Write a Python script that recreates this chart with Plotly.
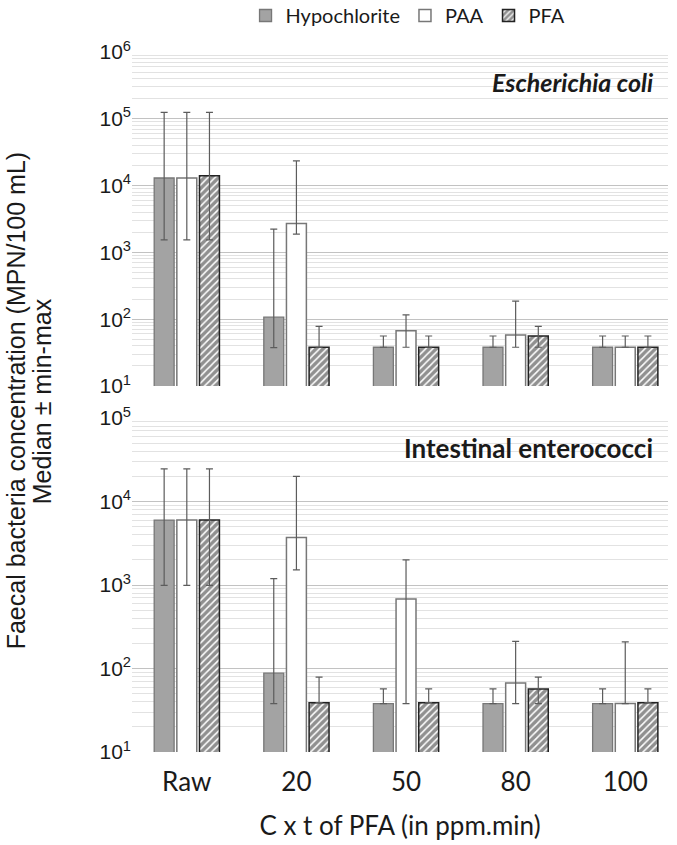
import numpy as np
import plotly.graph_objects as go

# ---------------- data ----------------
categories = ["Raw", "20", "50", "80", "100"]
series_names = ["Hypochlorite", "PAA", "PFA"]

# Escherichia coli (MPN/100 mL): median, max, min
ecoli_hypo = [13000, 107, 38, 38, 38]
ecoli_hypo_max = [125000, 2230, 56, 56, 56]
ecoli_hypo_min = [1540, 37.5, 38, 38, 38]
ecoli_paa = [13000, 2700, 67, 58, 38]
ecoli_paa_max = [125000, 23500, 116, 186, 56]
ecoli_paa_min = [1540, 1880, 38, 38, 38]
ecoli_pfa = [14000, 38, 38, 56, 38]
ecoli_pfa_max = [125000, 78, 56, 78, 56]
ecoli_pfa_min = [1540, 38, 38, 38, 38]

# Intestinal enterococci (MPN/100 mL): median, max, min
ent_hypo = [6000, 88, 38, 38, 38]
ent_hypo_max = [24600, 1190, 57, 57, 57]
ent_hypo_min = [990, 38, 38, 38, 38]
ent_paa = [6000, 3700, 680, 67, 38]
ent_paa_max = [24600, 20000, 2000, 211, 208]
ent_paa_min = [990, 1520, 38, 38, 38]
ent_pfa = [6000, 39, 39, 57, 39]
ent_pfa_max = [24600, 79, 57, 79, 57]
ent_pfa_min = [990, 39, 39, 38, 39]

panel_titles = ["<i>Escherichia coli</i>", "Intestinal enterococci"]
top_ticks = [10, 100, 1000, 1e4, 1e5, 1e6]
top_ticktext = ["10<sup>1</sup>", "10<sup>2</sup>", "10<sup>3</sup>", "10<sup>4</sup>", "10<sup>5</sup>", "10<sup>6</sup>"]
bot_ticks = [10, 100, 1000, 1e4, 1e5]
bot_ticktext = ["10<sup>1</sup>", "10<sup>2</sup>", "10<sup>3</sup>", "10<sup>4</sup>", "10<sup>5</sup>"]
x_title = "C x t of PFA (in ppm.min)"
y_title_lines = ["Faecal bacteria concentration (MPN/100 mL)", "Median ± min-max"]

# ---------------- styles ----------------
TXT = "#1a1a1a"
styles = [
    dict(color="#a3a3a3", line=dict(color="#777777", width=1.3)),
    dict(color="white", line=dict(color="#777777", width=1.5)),
    dict(color="white", line=dict(color="#222222", width=1.5),
         pattern=dict(shape="/", fgcolor="#222222", bgcolor="white", size=5, solidity=0.7)),
]
err_style = dict(color="#5c5c5c", thickness=1.2, width=3.5)

fig = go.Figure()
x_idx = list(range(len(categories)))

panels = [
    ("y", [(ecoli_hypo, ecoli_hypo_max, ecoli_hypo_min),
           (ecoli_paa, ecoli_paa_max, ecoli_paa_min),
           (ecoli_pfa, ecoli_pfa_max, ecoli_pfa_min)], True),
    ("y2", [(ent_hypo, ent_hypo_max, ent_hypo_min),
            (ent_paa, ent_paa_max, ent_paa_min),
            (ent_pfa, ent_pfa_max, ent_pfa_min)], False),
]
for yref, series, showleg in panels:
    xref = "x" if yref == "y" else "x2"
    for name, st, (med, mx, mn) in zip(series_names, styles, series):
        med = np.array(med, float)
        fig.add_trace(go.Bar(
            x=x_idx, y=med, name=name, marker=st, showlegend=showleg,
            xaxis=xref, yaxis=yref, legendgroup=name,
            error_y=dict(type="data", symmetric=False,
                         array=np.array(mx, float) - med,
                         arrayminus=med - np.array(mn, float), **err_style),
        ))

minor_vals = [m * 10 ** e for e in range(1, 6) for m in range(2, 10)]
axis_common = dict(
    type="log", showline=False, zeroline=False, ticks="",
    gridcolor="#c2c2c2", gridwidth=1.2,
    tickfont=dict(family="Liberation Sans, Arial", size=21, color=TXT),
    minor=dict(tickmode="array", tickvals=minor_vals, showgrid=True,
               gridcolor="#e2e2e2", gridwidth=1, ticks=""),
)

fig.update_layout(
    width=677, height=845,
    margin=dict(l=132, r=9, t=52, b=93, autoexpand=False),
    paper_bgcolor="white", plot_bgcolor="white",
    barmode="group", bargap=0.38, bargroupgap=0.12,
    font=dict(family="Lato, Open Sans", color=TXT),
    xaxis=dict(domain=[0, 1], anchor="y", range=[-0.5, 4.39], tickvals=x_idx,
               showticklabels=False, showgrid=False, zeroline=False, showline=False),
    xaxis2=dict(domain=[0, 1], anchor="y2", range=[-0.5, 4.39], tickvals=x_idx,
                ticktext=categories, showgrid=False, zeroline=False, showline=False,
                ticklabelstandoff=12, automargin=False,
                tickfont=dict(family="Lato, Open Sans", size=26, color=TXT),
                title=dict(text=x_title, font=dict(family="Lato, Open Sans", size=26, color=TXT),
                           standoff=20)),
    yaxis=dict(domain=[0.5229, 1], anchor="x", range=[1, 6], tickvals=top_ticks,
               ticktext=top_ticktext, automargin=False, **axis_common),
    yaxis2=dict(domain=[0, 0.4771], anchor="x2", range=[1, 5], tickvals=bot_ticks,
                ticktext=bot_ticktext, automargin=False, **axis_common),
    legend=dict(orientation="h", x=0.515, xanchor="center", y=1.08, yanchor="top",
                font=dict(family="Lato, Open Sans", size=20, color=TXT),
                traceorder="normal", itemwidth=30),
    annotations=[
        dict(text="<b>" + panel_titles[0] + "</b>", xref="paper", yref="paper",
             x=0.976, y=0.957, xanchor="right", yanchor="middle", showarrow=False,
             font=dict(family="Lato, Open Sans", size=25, color=TXT)),
        dict(text="<b>" + panel_titles[1] + "</b>", xref="paper", yref="paper",
             x=0.976, y=0.434, xanchor="right", yanchor="middle", showarrow=False,
             font=dict(family="Lato, Open Sans", size=26, color=TXT)),
        dict(text=y_title_lines[0], xref="paper", yref="paper", x=-0.2164, y=0.501,
             xanchor="center", yanchor="middle", textangle=-90, showarrow=False,
             font=dict(family="Liberation Sans, Arial", size=25, color=TXT)),
        dict(text=y_title_lines[1], xref="paper", yref="paper", x=-0.1679, y=0.501,
             xanchor="center", yanchor="middle", textangle=-90, showarrow=False,
             font=dict(family="Liberation Sans, Arial", size=25, color=TXT)),
    ],
)

fig.write_html("out.html", config={"displayModeBar": False},
               post_script="document.body.style.margin='0';document.body.style.overflow='hidden';")
